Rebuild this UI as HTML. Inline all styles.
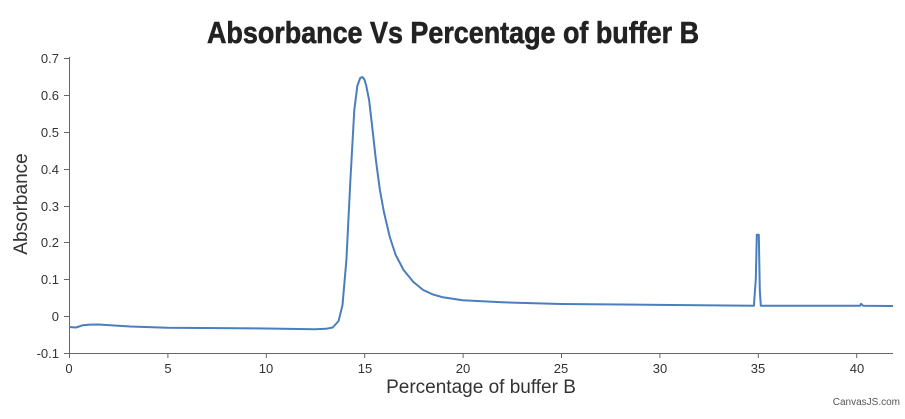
<!DOCTYPE html>
<html><head><meta charset="utf-8"><style>
body{margin:0;background:#fff;width:905px;height:414px;overflow:hidden}
text{font-family:"Liberation Sans",sans-serif}
</style></head><body>
<svg width="905" height="414" xmlns="http://www.w3.org/2000/svg">
<text x="453" y="43" text-anchor="middle" font-size="31" font-weight="bold" fill="#222" stroke="#222" stroke-width="0.6" style="font-family:'Liberation Sans Narrow','Liberation Sans',sans-serif" textLength="492" lengthAdjust="spacingAndGlyphs">Absorbance Vs Percentage of buffer B</text>
<g stroke="#666" stroke-width="1" fill="none">
<line x1="69.5" y1="57" x2="69.5" y2="353"/>
<line x1="69" y1="353.5" x2="893" y2="353.5"/>
<line x1="64" y1="58.5" x2="69" y2="58.5"/><line x1="64" y1="95.5" x2="69" y2="95.5"/><line x1="64" y1="132.5" x2="69" y2="132.5"/><line x1="64" y1="169.5" x2="69" y2="169.5"/><line x1="64" y1="206.5" x2="69" y2="206.5"/><line x1="64" y1="242.5" x2="69" y2="242.5"/><line x1="64" y1="279.5" x2="69" y2="279.5"/><line x1="64" y1="316.5" x2="69" y2="316.5"/><line x1="64" y1="353.5" x2="69" y2="353.5"/>
<line x1="69.5" y1="353" x2="69.5" y2="358"/><line x1="167.9" y1="353" x2="167.9" y2="358"/><line x1="266.3" y1="353" x2="266.3" y2="358"/><line x1="364.7" y1="353" x2="364.7" y2="358"/><line x1="463.1" y1="353" x2="463.1" y2="358"/><line x1="561.5" y1="353" x2="561.5" y2="358"/><line x1="659.9" y1="353" x2="659.9" y2="358"/><line x1="758.3" y1="353" x2="758.3" y2="358"/><line x1="856.7" y1="353" x2="856.7" y2="358"/>
</g>
<g font-size="13" fill="#333" text-anchor="end">
<text x="59" y="63">0.7</text><text x="59" y="100">0.6</text><text x="59" y="137">0.5</text><text x="59" y="174">0.4</text><text x="59" y="211">0.3</text><text x="59" y="247">0.2</text><text x="59" y="284">0.1</text><text x="59" y="321">0</text><text x="59" y="358">-0.1</text>
</g>
<g font-size="13" fill="#333" text-anchor="middle">
<text x="69" y="373">0</text><text x="168" y="373">5</text><text x="266" y="373">10</text><text x="365" y="373">15</text><text x="463" y="373">20</text><text x="561" y="373">25</text><text x="660" y="373">30</text><text x="758" y="373">35</text><text x="857" y="373">40</text>
</g>
<text x="481" y="393" text-anchor="middle" font-size="19" fill="#333">Percentage of buffer B</text>
<text transform="translate(27,204) rotate(-90)" text-anchor="middle" font-size="19" fill="#333">Absorbance</text>
<text x="900" y="405" text-anchor="end" font-size="10" fill="#555">CanvasJS.com</text>
<polyline fill="none" stroke="#4a7ebf" stroke-width="2" stroke-linejoin="round" points="69,327 76,327.5 79,326.5 83,325.2 90,324.6 98.5,324.5 130,326.5 167.4,327.8 265.8,328.5 315,329.3 326,328.8 332.7,327.5 338.6,321 342.5,305 346.4,260 350.4,180 354.3,110 357.3,86 360.2,78 362.2,77 364.2,79 366.1,85 369.1,100 372,125 375.9,160 379.9,190 383.9,212 389.8,237 395.7,255 403.6,270 413.4,282 423.2,290 433,294.5 442.9,297.3 462.6,300.3 502,302.3 561,304 659.4,304.9 753.9,305.7 755.8,279 756.8,234.8 758.8,234.8 759.8,290 760.8,305.7 860.1,305.7 861.1,303.8 863.1,305.7 893,306"/>
</svg>
</body></html>
